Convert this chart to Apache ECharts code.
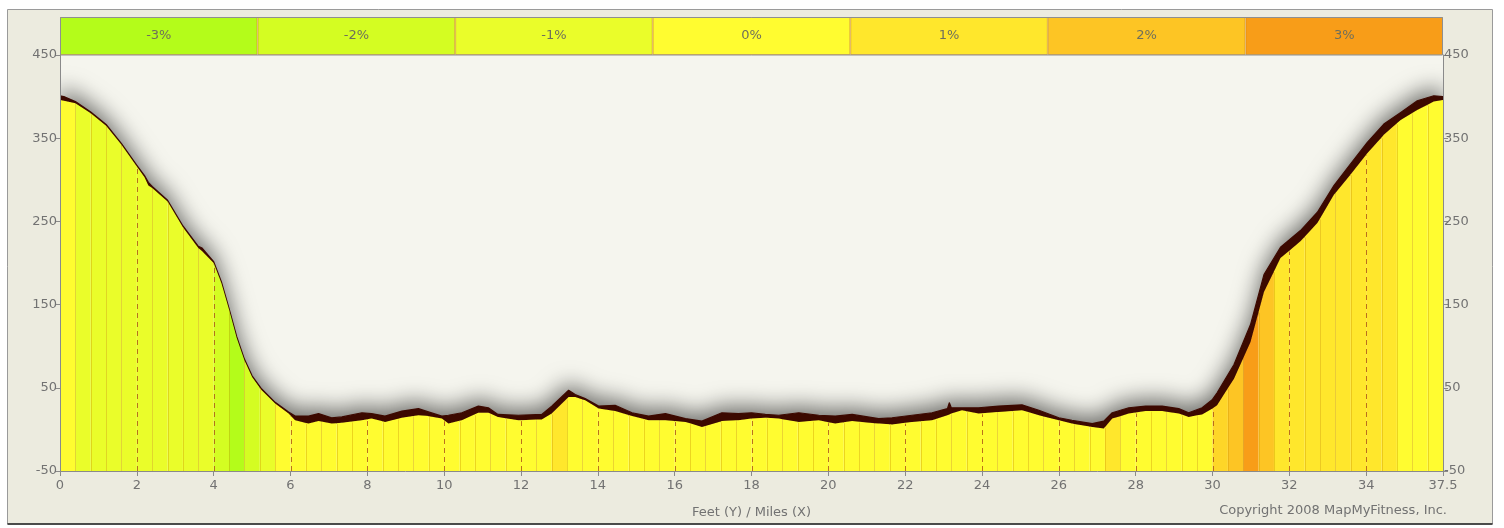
<!DOCTYPE html>
<html>
<head>
<meta charset="utf-8">
<script src="https://cdn.jsdelivr.net/npm/echarts@6/dist/echarts.min.js"></script>
<style>
  html, body { margin: 0; padding: 0; background: #ffffff; }
  #chart { width: 1504px; height: 528px; }
</style>
</head>
<body>
<div id="chart"></div>
<script>
// ---------------- DATA ----------------
const legendLabels = ['-3%', '-2%', '-1%', '0%', '1%', '2%', '3%'];
const gradeLevels  = [-3, -2, -1, 0, 1, 2, 3];
const gradeColors  = ['#b4fc1a', '#d4fd22', '#eafd2a', '#fffc30', '#ffe72c', '#fdc524', '#f89d18'];

const xTickLabels = ['0','2','4','6','8','10','12','14','16','18','20','22','24','26','28','30','32','34','37.5'];

// distance along the route (miles)
const miles = [
  0.0, 0.1, 0.4, 0.8, 1.2, 1.6, 2.0, 2.2, 2.3, 2.4, 2.8, 3.2, 3.6, 3.7, 4.0, 4.2, 4.4, 4.6, 4.8, 5.0,
  5.25, 5.6, 5.95, 6.12, 6.47, 6.73, 7.07, 7.34, 7.86, 8.11, 8.46, 8.9, 9.33, 9.59, 9.94, 10.11, 10.46, 10.89, 11.15, 11.4,
  11.93, 12.54, 12.8, 13.24, 13.41, 13.67, 14.02, 14.45, 14.89, 15.32, 15.76, 16.28, 16.71, 17.23, 17.66, 18.0, 18.36, 18.71, 19.23, 19.75,
  20.18, 20.62, 21.31, 21.66, 22.18, 22.7, 23.1, 23.15, 23.2, 23.48, 23.91, 24.43, 25.04, 25.48, 26.0, 26.34, 26.87, 27.17, 27.39, 27.82,
  28.26, 28.69, 29.12, 29.38, 29.73, 30.0, 30.12, 30.56, 30.99, 31.34, 31.77, 32.29, 32.73, 33.16, 33.59, 34.03, 34.46, 34.9, 35.33, 35.76, 36.0
];
// smoothed elevation (feet) – top of the coloured fill
const elevation = [
  396, 395, 392, 380, 365, 342, 316, 303, 293, 290, 274, 243, 218, 214, 200, 176, 144, 110, 83, 63,
  47, 31, 19, 11, 7, 10, 7, 8, 11, 13, 9, 14, 17, 16, 13, 7, 11, 20, 20, 15,
  11, 12, 19, 39, 39, 35, 25, 22, 16, 11, 11, 9, 3, 10, 11, 13, 14, 13, 9, 11,
  7, 10, 7, 6, 9, 11, 17, 18, 19, 23, 19, 21, 23, 17, 11, 7, 3, 1, 13, 19,
  22, 22, 19, 15, 18, 25, 29, 61, 105, 165, 206, 226, 248, 282, 306, 332, 354, 372, 384, 394, 396
];
// raw (noisy) elevation maxima (feet) – top of the dark band
const elevationRaw = [
  401, 400, 394, 381.5, 366.5, 343.5, 317.5, 305, 297, 292, 275.5, 244.5, 220, 218, 201.5, 177.5, 145.5, 111.5, 84.5, 64.5,
  48.5, 32.5, 21, 16, 16, 19, 14, 15, 20, 19, 16, 22, 25, 21, 16, 17, 20, 28, 26, 18,
  17, 18, 28, 47, 42, 37, 28, 29, 20, 16, 19, 13, 10, 20, 19, 20, 18, 17, 20, 17,
  16, 18, 13, 14, 17, 20, 25, 32, 26, 26, 26, 28, 29.5, 23, 14, 11, 7, 10, 20, 26,
  28, 28, 25, 20, 26, 36, 44, 78, 126, 186, 219, 239, 261, 293, 319, 345, 367, 381, 395, 401, 400
];
// grade class of each 0.4-mile segment (percent)
const segmentMiles = 0.4;
const segmentGrades = [
  0, -1, -1, -1, -1, -1, -1, -1, -1, -1,
  -2, -3, -2, -1, 0, 0, 0, 0, 0, 0,
  0, 0, 0, 0, 0, 0, 0, 0, 0, 0,
  0, 0, 1, 0, 0, 0, 0, 0, 0, 0,
  0, 0, 0, 0, 0, 0, 0, 0, 0, 0,
  0, 0, 0, 0, 0, 0, 0, 0, 0, 0,
  0, 0, 0, 0, 0, 0, 0, 0, 1, 0,
  0, 0, 0, 0, 0, 1.5, 2, 3, 2, 1,
  1, 1, 1, 1, 1, 1, 1, 0, 0, 0
];

// ---------------- HELPERS ----------------
function hexToRgb(h) { const n = parseInt(h.slice(1), 16); return [(n >> 16) & 255, (n >> 8) & 255, n & 255]; }
function colorForGrade(g) {
  if (g <= gradeLevels[0]) return gradeColors[0];
  if (g >= gradeLevels[gradeLevels.length - 1]) return gradeColors[gradeColors.length - 1];
  for (let i = 0; i < gradeLevels.length - 1; i++) {
    if (g >= gradeLevels[i] && g <= gradeLevels[i + 1]) {
      const t = (g - gradeLevels[i]) / (gradeLevels[i + 1] - gradeLevels[i]);
      const a = hexToRgb(gradeColors[i]), b = hexToRgb(gradeColors[i + 1]);
      return 'rgb(' + a.map((v, j) => Math.round(v + (b[j] - v) * t)).join(',') + ')';
    }
  }
  return gradeColors[3];
}
function interp(arr, x) {
  if (x <= miles[0]) return arr[0];
  for (let i = 0; i < miles.length - 1; i++) {
    if (x >= miles[i] && x <= miles[i + 1]) {
      const t = (x - miles[i]) / (miles[i + 1] - miles[i]);
      return arr[i] + (arr[i + 1] - arr[i]) * t;
    }
  }
  return arr[arr.length - 1];
}

const FONT = 'DejaVu Sans';
const TXT = '#727272';
const yMin = -50, yMax = 450;

const chart = echarts.init(document.getElementById('chart'), null, { renderer: 'canvas' });

const axisGrey = '#8a8a8a';
const option = {
  backgroundColor: '#ffffff',
  animation: false,
  textStyle: { fontFamily: FONT },
  graphic: [
    { type: 'rect', z: -10, shape: { x: 7.5, y: 9.5, width: 1485, height: 514.5 },
      style: { fill: '#ecebdf', stroke: '#9a9a9a', lineWidth: 1 } },
    { type: 'line', z: -9, shape: { x1: 7.5, y1: 524, x2: 1492.5, y2: 524 }, style: { stroke: '#222', lineWidth: 1.5 } },
    { type: 'rect', z: 20, shape: { x: 60.5, y: 17.5, width: 1382, height: 37.5 },
      style: { fill: 'none', stroke: '#8f8f8f', lineWidth: 1 } },
    { type: 'text', z: 20, x: 1447, y: 511,
      style: { text: 'Copyright 2008 MapMyFitness, Inc.', fill: TXT, font: '13px "DejaVu Sans"', textAlign: 'right', textVerticalAlign: 'middle' } }
  ],
  grid: [
    { left: 60, right: 61, top: 55, bottom: 57, show: true, backgroundColor: '#f5f5ee', borderWidth: 0 },
    { left: 60, right: 61, top: 17, height: 38, show: false }
  ],
  xAxis: [
    {
      gridIndex: 0, type: 'value', min: 0, max: 36, interval: 2, z: 10,
      axisLine: { show: true, onZero: false, lineStyle: { color: axisGrey, width: 1 } },
      axisTick: { show: true, length: 5, lineStyle: { color: axisGrey } },
      splitLine: { show: false },
      axisLabel: { color: TXT, fontSize: 13, fontFamily: FONT, margin: 8,
        formatter: v => xTickLabels[Math.round(v / 2)] },
      name: 'Feet (Y) / Miles (X)', nameLocation: 'middle', nameGap: 35,
      nameTextStyle: { color: TXT, fontSize: 13, fontFamily: FONT }
    },
    {
      gridIndex: 1, type: 'category', data: legendLabels, show: false, boundaryGap: true
    }
  ],
  yAxis: [
    {
      gridIndex: 0, type: 'value', min: yMin, max: yMax, interval: 100, position: 'left', z: 10,
      axisLine: { show: true, onZero: false, lineStyle: { color: axisGrey } },
      axisTick: { show: true, length: 5, lineStyle: { color: axisGrey } },
      splitLine: { show: false },
      axisLabel: { color: TXT, fontSize: 13, fontFamily: FONT, margin: 3 }
    },
    {
      gridIndex: 0, type: 'value', min: yMin, max: yMax, interval: 100, position: 'right', z: 10,
      axisLine: { show: true, onZero: false, lineStyle: { color: axisGrey } },
      axisTick: { show: true, length: 5, lineStyle: { color: axisGrey } },
      splitLine: { show: false },
      axisLabel: { color: TXT, fontSize: 13, fontFamily: FONT, margin: 1 }
    },
    { gridIndex: 1, type: 'value', min: 0, max: 1, show: false }
  ],
  series: [
    // grade legend strip
    {
      type: 'bar', xAxisIndex: 1, yAxisIndex: 2, barWidth: '100%', barCategoryGap: 0,
      data: legendLabels.map((l, i) => ({ value: 1, itemStyle: { color: gradeColors[i] } })),
      itemStyle: { borderColor: 'rgba(215,130,0,0.5)', borderWidth: 1 },
      label: { show: true, position: 'inside', formatter: '{b}', color: '#6f6f5c', fontSize: 13, fontFamily: FONT },
      silent: true
    },
    // soft grey glow above the profile
    {
      type: 'custom', xAxisIndex: 0, yAxisIndex: 0, clip: true, z: 1, silent: true,
      data: [[0, 0]],
      renderItem: function (params, api) {
        const pts = [api.coord([miles[0], yMin])];
        for (let i = 0; i < miles.length; i++) pts.push(api.coord([miles[i], elevationRaw[i]]));
        pts.push(api.coord([miles[miles.length - 1], yMin]));
        return {
          type: 'polygon', shape: { points: pts },
          style: { fill: '#f5f5ee', shadowBlur: 22, shadowColor: 'rgba(0,0,0,0.55)', shadowOffsetY: -7 }
        };
      }
    },
    // dark noisy band
    {
      type: 'custom', xAxisIndex: 0, yAxisIndex: 0, clip: true, z: 2, silent: true,
      data: [[0, 0]],
      renderItem: function (params, api) {
        const pts = [];
        for (let i = 0; i < miles.length; i++) pts.push(api.coord([miles[i], elevationRaw[i]]));
        for (let i = miles.length - 1; i >= 0; i--) pts.push(api.coord([miles[i], elevation[i]]));
        return {
          type: 'polygon', shape: { points: pts },
          style: { fill: '#3c0900', stroke: '#3c0900', lineWidth: 1.2, lineJoin: 'round' }
        };
      }
    },
    // coloured grade segments
    {
      type: 'custom', xAxisIndex: 0, yAxisIndex: 0, clip: true, z: 3, silent: true,
      data: segmentGrades.map((g, k) => [k * segmentMiles, g]),
      renderItem: function (params, api) {
        const x0 = api.value(0), g = api.value(1), x1 = x0 + segmentMiles;
        const k = params.dataIndex;
        const pts = [api.coord([x0, yMin]), api.coord([x0, interp(elevation, x0)])];
        for (let i = 0; i < miles.length; i++) {
          if (miles[i] > x0 && miles[i] < x1) pts.push(api.coord([miles[i], elevation[i]]));
        }
        pts.push(api.coord([x1, interp(elevation, x1)]));
        pts.push(api.coord([x1, yMin]));
        const children = [{ type: 'polygon', shape: { points: pts }, style: { fill: colorForGrade(g) } }];
        if (k > 0) {
          const top = api.coord([x0, interp(elevation, x0)]);
          const bot = api.coord([x0, yMin]);
          const px = Math.round(top[0]) + 0.5;
          const major = (k % 5 === 0);
          children.push({
            type: 'line',
            shape: { x1: px, y1: bot[1], x2: px, y2: top[1] + 1 },
            style: major
              ? { stroke: 'rgba(170,80,20,0.8)', lineWidth: 1, lineDash: [5, 4] }
              : { stroke: 'rgba(205,150,0,0.38)', lineWidth: 1 }
          });
        }
        return { type: 'group', children: children };
      }
    }
  ]
};
chart.setOption(option);
</script>
</body>
</html>
